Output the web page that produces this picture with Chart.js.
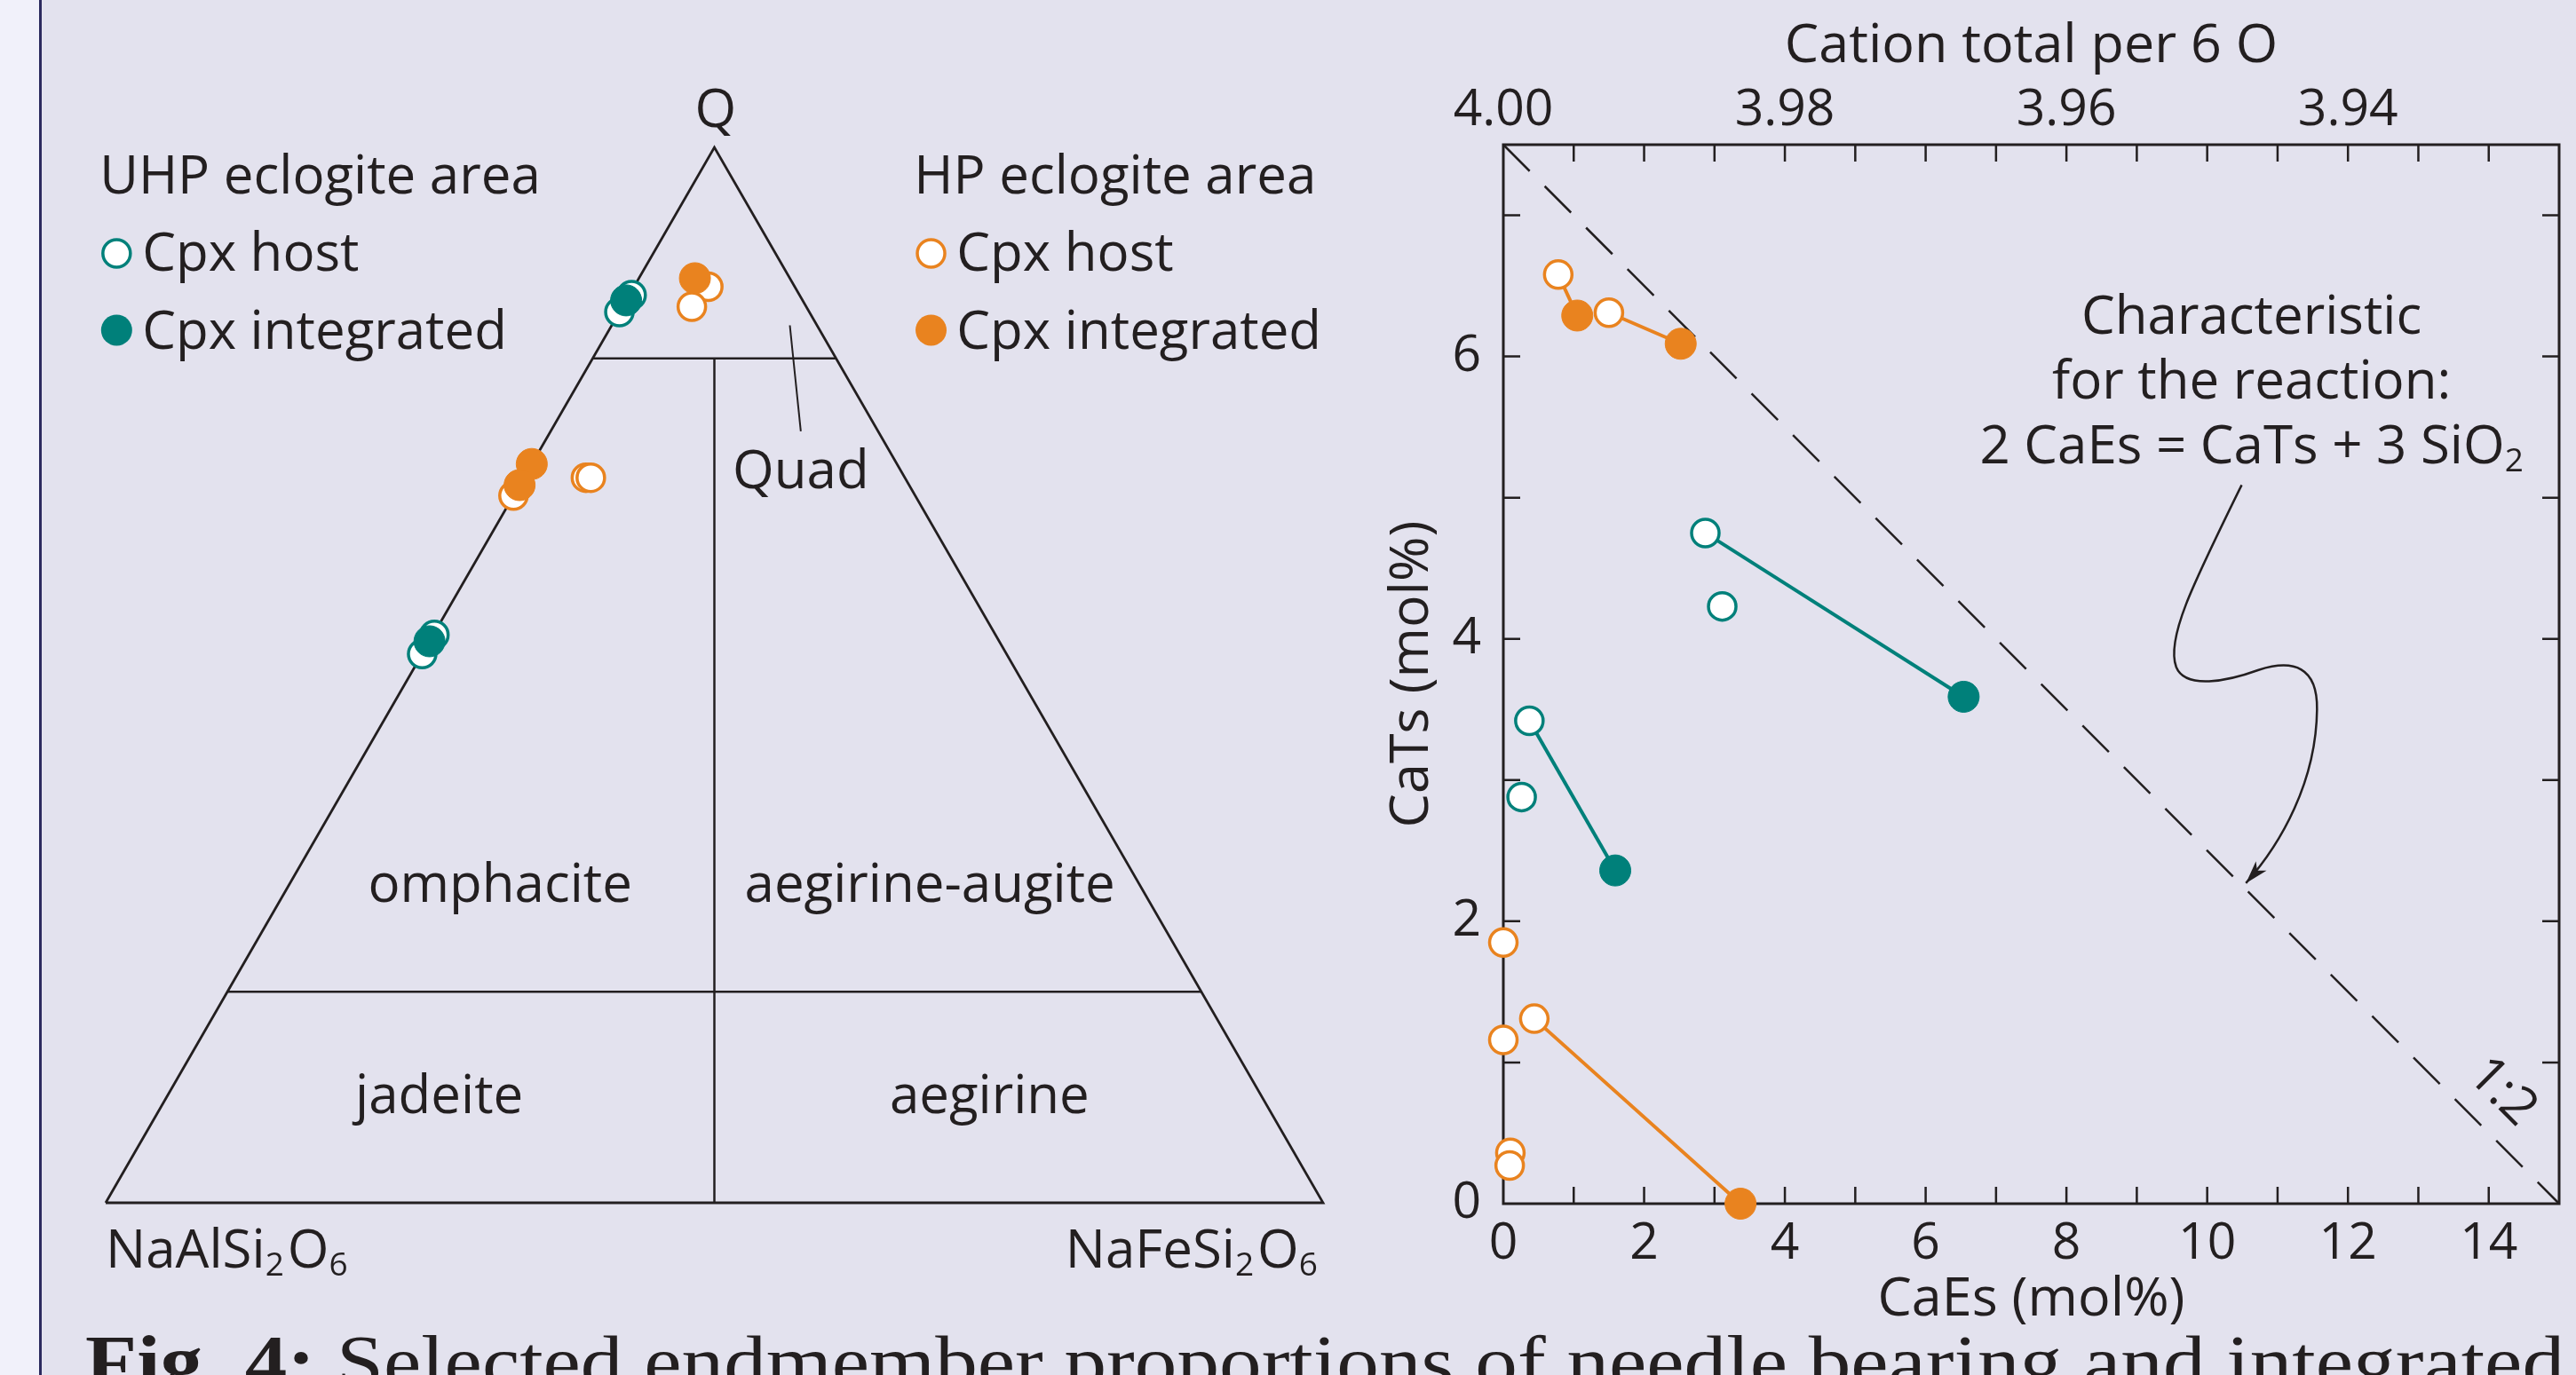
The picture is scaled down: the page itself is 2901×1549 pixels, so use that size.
<!DOCTYPE html>
<html>
<head>
<meta charset="utf-8">
<title>Cpx endmembers</title>
<script src="https://cdn.jsdelivr.net/npm/chart.js@4.4.1/dist/chart.umd.min.js"></script>
<style>
  html, body { margin: 0; padding: 0; }
  body { width: 2901px; height: 1549px; overflow: hidden; background: #e3e2ee; position: relative; }
  #strip { position: absolute; left: 0; top: 0; width: 44px; height: 1549px; background: #f1f1fa; border-right: 3px solid #2c2a5e; }
  #ternWrap { position: absolute; left: 46px; top: 0; width: 1494px; height: 1549px; }
  #plotWrap { position: absolute; left: 1540px; top: 0; width: 1361px; height: 1549px; }
  #caption { position: absolute; left: 96px; top: 1493px; font-family: "Liberation Serif", serif; font-size: 84px; line-height: 84px; white-space: nowrap; color: #231f20; transform-origin: 0 0; }
</style>
</head>
<body>
<div id="strip"></div>
<div id="ternWrap"><canvas id="tern"></canvas></div>
<div id="plotWrap"><canvas id="plot"></canvas></div>
<div id="caption"><b>Fig. 4:</b> Selected endmember proportions of needle bearing and integrated</div>
<script>

const INK = "#231f20";
const TEAL = "#00807a";
const ORANGE = "#e9831f";
const FONT = "'Open Sans', sans-serif";
const LABEL = "60px " + FONT;
const SUB = "37px " + FONT;

// Ternary Q - Jd - Ae (mol%), Jd is the rest
const uhpHostQ = [84.4, 86.0, 52.0, 53.8];
const uhpHostAe = [0, 0.2, 0, 0.1];
const uhpIntQ = [85.5, 53.2];
const uhpIntAe = [0, 0];
const hpHostQ = [86.8, 84.9, 67.0, 68.7, 68.7];
const hpHostAe = [6.1, 5.7, 0, 5.1, 5.5];
const hpIntQ = [87.6, 70.0, 68.0];
const hpIntAe = [4.6, 0, 0];

// CaEs vs CaTs (mol%)
const uhpHostCaEs = [2.87, 3.11, 0.37, 0.26];
const uhpHostCaTs = [4.75, 4.23, 3.42, 2.88];
const uhpIntCaEs = [6.54, 1.59];
const uhpIntCaTs = [3.59, 2.36];
const hpHostCaEs = [0.78, 1.50, 0.00, 0.44, 0.00, 0.10, 0.09];
const hpHostCaTs = [6.58, 6.31, 1.85, 1.31, 1.16, 0.36, 0.27];
const hpIntCaEs = [1.05, 2.52, 3.37];
const hpIntCaTs = [6.29, 6.09, 0.00];

// host index -> integrated index
const uhpTies = [[0, 0], [2, 1]];
const hpTies = [[0, 0], [1, 1], [3, 2]];

// tick labels
const caesTicks = [0, 2, 4, 6, 8, 10, 12, 14];
const catsTicks = [0, 2, 4, 6];
const cationTickPos = [0, 4, 8, 12];
const cationTicks = ["4.00", "3.98", "3.96", "3.94"];

const caesMax = 15;
const catsMax = 7.5;

Chart.defaults.font.family = FONT;
Chart.defaults.color = INK;


//  Ternary diagram

const H = Math.sqrt(3) / 2;
const tern = (q, ae) => ({ x: ae + q / 2, y: q * H });
const ternPts = (qs, aes) => qs.map((q, i) => tern(q, aes[i]));

const fieldLine = (pts) => ({
    type: "line",
    data: pts.map(p => tern(p[0], p[1])),
    borderColor: INK,
    borderWidth: 2.5,
    pointRadius: 0,
    fill: false,
    clip: false,
    borderJoinStyle: "miter",
    order: 5
});

const openPt = (data, color) => ({
    data: data, pointRadius: 15.5, pointBorderWidth: 3.5,
    pointBackgroundColor: "#ffffff", pointBorderColor: color,
    showLine: false, clip: false, order: 2
});
const fullPt = (data, color) => ({
    data: data, pointRadius: 17.5, pointBorderWidth: 1,
    pointBackgroundColor: color, pointBorderColor: color,
    showLine: false, clip: false, order: 1
});

function drawFormula(ctx, parts, x, y, align) {
    let w = 0;
    parts.forEach(p => { ctx.font = p[1] ? SUB : LABEL; w += ctx.measureText(p[0]).width + (p[1] ? 4 : 0); });
    let cx = align === "right" ? x - w : x;
    ctx.textAlign = "left";
    parts.forEach(p => {
        ctx.font = p[1] ? SUB : LABEL;
        ctx.fillText(p[0], cx, p[1] ? y + 9 : y);
        cx += ctx.measureText(p[0]).width + (p[1] ? 4 : 0);
    });
}

function legendMark(ctx, x, y, color, filled) {
    ctx.beginPath();
    ctx.arc(x, y, filled ? 17.5 : 15.5, 0, Math.PI * 2);
    ctx.fillStyle = filled ? color : "#ffffff";
    ctx.fill();
    if (!filled) { ctx.lineWidth = 3.5; ctx.strokeStyle = color; ctx.stroke(); }
}

const ternaryText = {
    id: "ternaryText",
    afterDatasetsDraw(chart) {
        const { ctx, scales: { x, y } } = chart;
        const px = v => x.getPixelForValue(v);
        const py = v => y.getPixelForValue(v);
        ctx.save();
        ctx.fillStyle = INK;
        ctx.textBaseline = "alphabetic";
        ctx.font = LABEL;
        ctx.textAlign = "center";
        ctx.fillText("Q", px(50.1), py(88.3));
        ctx.fillText("Quad", px(57.1), py(58.6));
        ctx.fillText("omphacite", px(32.4), py(24.7));
        ctx.fillText("aegirine-augite", px(67.7), py(24.7));
        ctx.fillText("jadeite", px(27.4), py(7.36));
        ctx.fillText("aegirine", px(72.6), py(7.36));

        // Quad leader
        ctx.strokeStyle = INK;
        ctx.lineWidth = 2;
        ctx.beginPath();
        ctx.moveTo(px(56.2), py(72.0));
        ctx.lineTo(px(57.1), py(63.3));
        ctx.stroke();

        drawFormula(ctx, [["NaAlSi", 0], ["2", 1], ["O", 0], ["6", 1]], px(0), py(-5.32), "left");
        drawFormula(ctx, [["NaFeSi", 0], ["2", 1], ["O", 0], ["6", 1]], px(99.85), py(-5.32), "right");

        // legend
        ctx.font = LABEL;
        ctx.textAlign = "left";
        ctx.fillStyle = INK;
        ctx.fillText("UHP eclogite area", px(-0.5), py(82.8));
        ctx.fillText("Cpx host", px(3.0), py(76.5));
        ctx.fillText("Cpx integrated", px(3.0), py(70.1));
        ctx.fillText("HP eclogite area", px(66.4), py(82.8));
        ctx.fillText("Cpx host", px(69.9), py(76.5));
        ctx.fillText("Cpx integrated", px(69.9), py(70.1));
        legendMark(ctx, px(0.9), py(77.9), TEAL, false);
        legendMark(ctx, px(0.9), py(71.6), TEAL, true);
        legendMark(ctx, px(67.8), py(77.9), ORANGE, false);
        legendMark(ctx, px(67.8), py(71.6), ORANGE, true);
        ctx.restore();
    }
};

new Chart(document.getElementById("tern").getContext("2d"), {
    type: "scatter",
    data: {
        datasets: [
            fullPt(ternPts(uhpIntQ, uhpIntAe), TEAL),
            fullPt(ternPts(hpIntQ, hpIntAe), ORANGE),
            openPt(ternPts(uhpHostQ, uhpHostAe), TEAL),
            openPt(ternPts(hpHostQ, hpHostAe), ORANGE),
            Object.assign(fieldLine([[0, 0], [0, 100], [100, 0], [0, 0]]), { borderWidth: 2.8 }),
            fieldLine([[80, 0], [80, 20]]),
            fieldLine([[20, 0], [20, 80]]),
            fieldLine([[80, 10], [0, 50]])
        ]
    },
    options: {
        responsive: true,
        maintainAspectRatio: false,
        animation: false,
        events: [],
        layout: { padding: { left: 73, right: 50, top: 166, bottom: 194 } },
        plugins: { legend: { display: false }, tooltip: { enabled: false } },
        scales: {
            x: { type: "linear", display: false, min: 0, max: 100 },
            y: { type: "linear", display: false, min: 0, max: 100 * H }
        }
    },
    plugins: [ternaryText]
});


//  CaEs - CaTs diagram

const xy = (xs, ys) => xs.map((v, i) => ({ x: v, y: ys[i] }));

const tieLine = (hx, hy, ix, iy, pair, color) => ({
    type: "line",
    data: [{ x: hx[pair[0]], y: hy[pair[0]] }, { x: ix[pair[1]], y: iy[pair[1]] }],
    borderColor: color,
    borderWidth: 4,
    pointRadius: 0,
    fill: false,
    clip: false,
    order: 3
});

// 1:2 reference line, CaTs = (15 - CaEs) / 2
const ratioLine = [{ x: 0, y: catsMax }, { x: caesMax, y: 0 }];

const frameTicks = {
    id: "frameTicks",
    beforeDatasetsDraw(chart) {
        const { ctx, chartArea: a, scales: { x, y } } = chart;
        ctx.save();
        ctx.strokeStyle = INK;
        ctx.lineWidth = 3;
        ctx.strokeRect(a.left, a.top, a.right - a.left, a.bottom - a.top);
        ctx.lineWidth = 2.5;
        ctx.beginPath();
        x.ticks.forEach(t => {
            if (t.value <= x.min || t.value >= x.max) return;
            const p = x.getPixelForValue(t.value);
            ctx.moveTo(p, a.bottom); ctx.lineTo(p, a.bottom - 19);
            ctx.moveTo(p, a.top); ctx.lineTo(p, a.top + 19);
        });
        y.ticks.forEach(t => {
            if (t.value <= y.min || t.value >= y.max) return;
            const p = y.getPixelForValue(t.value);
            ctx.moveTo(a.left, p); ctx.lineTo(a.left + 19, p);
            ctx.moveTo(a.right, p); ctx.lineTo(a.right - 19, p);
        });
        ctx.stroke();
        ctx.restore();
    }
};

const arrowPath = [
    [10.49, 5.09],
    [9.79, 4.38], [9.41, 4.00], [9.56, 3.80],
    [9.69, 3.64], [10.29, 3.70], [10.73, 3.78],
    [11.23, 3.86], [11.57, 3.80], [11.56, 3.50],
    [11.55, 2.99], [11.05, 2.55], [10.55, 2.27]
];

const plotText = {
    id: "plotText",
    afterDatasetsDraw(chart) {
        const { ctx, scales: { x, y } } = chart;
        const px = v => x.getPixelForValue(v);
        const py = v => y.getPixelForValue(v);
        ctx.save();
        ctx.fillStyle = INK;
        ctx.font = LABEL;
        ctx.textAlign = "center";
        ctx.textBaseline = "alphabetic";
        ctx.fillText("Characteristic", px(10.63), py(6.16));
        ctx.fillText("for the reaction:", px(10.63), py(5.70));

        // 2 CaEs = CaTs + 3 SiO2
        const main = "2 CaEs = CaTs + 3 SiO";
        ctx.font = LABEL;
        const w1 = ctx.measureText(main).width;
        ctx.font = SUB;
        const w2 = ctx.measureText("2").width;
        const x0 = px(10.63) - (w1 + w2) / 2;
        ctx.textAlign = "left";
        ctx.font = LABEL;
        ctx.fillText(main, x0, py(5.24));
        ctx.font = SUB;
        ctx.fillText("2", x0 + w1, py(5.24) + 9);

        // curly arrow
        ctx.strokeStyle = INK;
        ctx.lineWidth = 2.5;
        ctx.beginPath();
        ctx.moveTo(px(arrowPath[0][0]), py(arrowPath[0][1]));
        for (let i = 1; i + 2 < arrowPath.length; i += 3) {
            ctx.bezierCurveTo(
                px(arrowPath[i][0]), py(arrowPath[i][1]),
                px(arrowPath[i + 1][0]), py(arrowPath[i + 1][1]),
                px(arrowPath[i + 2][0]), py(arrowPath[i + 2][1]));
        }
        ctx.stroke();
        const tip = arrowPath[arrowPath.length - 1], prev = arrowPath[arrowPath.length - 2];
        const tx = px(tip[0]), ty = py(tip[1]);
        const ang = Math.atan2(ty - py(prev[1]), tx - px(prev[0]));
        ctx.translate(tx, ty);
        ctx.rotate(ang);
        ctx.beginPath();
        ctx.moveTo(0, 0);
        ctx.lineTo(-26, -8);
        ctx.lineTo(-19, 0);
        ctx.lineTo(-26, 8);
        ctx.closePath();
        ctx.fillStyle = INK;
        ctx.fill();
        ctx.setTransform(1, 0, 0, 1, 0, 0);

        // 1:2 label along the line
        ctx.translate(px(14.19), py(0.79));
        ctx.rotate(Math.PI / 4);
        ctx.font = "58px " + FONT;
        ctx.textAlign = "center";
        ctx.textBaseline = "middle";
        ctx.fillText("1:2", 0, 0);
        ctx.restore();
    }
};

const tickFont = { family: FONT, size: 57 };
const titleFont = { family: FONT, size: 61 };

new Chart(document.getElementById("plot").getContext("2d"), {
    type: "scatter",
    data: {
        datasets: [
            fullPt(xy(uhpIntCaEs, uhpIntCaTs), TEAL),
            fullPt(xy(hpIntCaEs, hpIntCaTs), ORANGE),
            openPt(xy(uhpHostCaEs, uhpHostCaTs), TEAL),
            openPt(xy(hpHostCaEs, hpHostCaTs), ORANGE),
            ...uhpTies.map(p => tieLine(uhpHostCaEs, uhpHostCaTs, uhpIntCaEs, uhpIntCaTs, p, TEAL)),
            ...hpTies.map(p => tieLine(hpHostCaEs, hpHostCaTs, hpIntCaEs, hpIntCaTs, p, ORANGE)),
            {
                type: "line",
                data: ratioLine,
                borderColor: INK,
                borderWidth: 2.5,
                borderDash: [42, 24],
                pointRadius: 0,
                fill: false,
                clip: false,
                order: 4
            }
        ]
    },
    options: {
        responsive: true,
        maintainAspectRatio: false,
        animation: false,
        events: [],
        layout: { padding: { left: 0, right: 17, top: 0, bottom: 0 } },
        plugins: { legend: { display: false }, tooltip: { enabled: false } },
        scales: {
            x: {
                type: "linear", position: "bottom", min: 0, max: caesMax,
                grid: { display: false, drawTicks: false }, border: { display: false },
                ticks: { stepSize: 1, autoSkip: false, maxRotation: 0, padding: 12, font: tickFont, color: INK,
                    callback: v => caesTicks.includes(v) ? String(v) : "" },
                title: { display: true, text: "CaEs (mol%)", font: titleFont, color: INK, padding: { top: 0, bottom: 48 } },
                afterFit: s => { s.height = 193; }
            },
            x2: {
                type: "linear", position: "top", min: 0, max: caesMax,
                grid: { display: false, drawTicks: false }, border: { display: false },
                ticks: { stepSize: 1, autoSkip: false, maxRotation: 0, padding: 4, font: tickFont, color: INK,
                    callback: v => { const i = cationTickPos.indexOf(v); return i >= 0 ? cationTicks[i] : ""; } },
                title: { display: true, text: "Cation total per 6 O", font: titleFont, color: INK, padding: { top: 16, bottom: 0 } },
                afterFit: s => { s.height = 163; }
            },
            y: {
                type: "linear", position: "left", min: 0, max: catsMax,
                grid: { display: false, drawTicks: false }, border: { display: false },
                ticks: { stepSize: 1, autoSkip: false, padding: 25, font: tickFont, color: INK,
                    callback: v => catsTicks.includes(v) ? String(v) : "" },
                title: { display: true, text: "CaTs (mol%)", font: titleFont, color: INK, padding: { top: 14, bottom: 0 } },
                afterFit: s => { s.width = 153; }
            }
        }
    },
    plugins: [frameTicks, plotText]
});


// Caption, stretched to the width of the original line

function fitCaption() {
    const cap = document.getElementById("caption");
    cap.style.transform = "none";
    const w = cap.getBoundingClientRect().width;
    cap.style.transform = "scaleX(" + (2792 / w) + ")";
}
fitCaption();
if (document.fonts) document.fonts.ready.then(fitCaption);

</script>
</body>
</html>
